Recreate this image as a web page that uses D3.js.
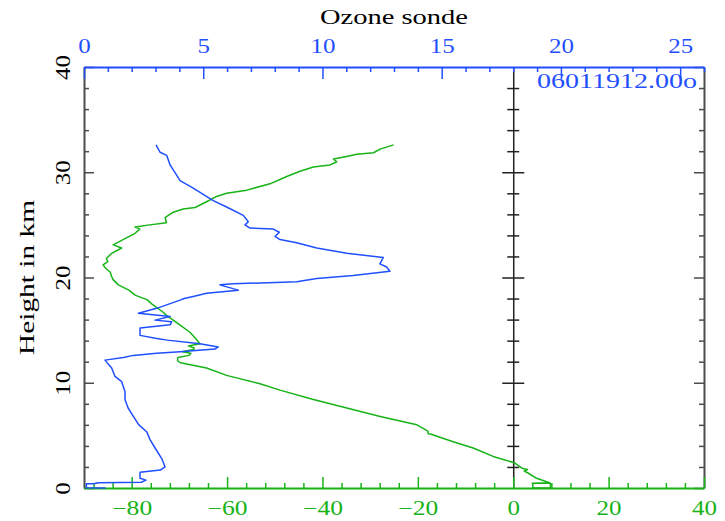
<!DOCTYPE html>
<html><head><meta charset="utf-8">
<script src="https://cdn.jsdelivr.net/npm/d3@7"></script>
<style>html,body{margin:0;padding:0;background:#fff;} svg{display:block;}</style>
</head><body>
<svg id="chart" width="725" height="521"></svg>
<script>
// Temperature profile (bottom axis, deg C) vs height (km)
const tempHeight = [0.0,0.02,0.45,0.45,0.5,0.92,1.45,1.6,1.75,1.85,2.4,3.0,3.8,4.4,5.1,5.15,5.4,6.0,6.8,7.6,8.4,9.3,9.9,10.7,11.4,11.9,12.1,12.4,12.6,12.8,12.95,13.15,13.3,13.5,13.7,14.2,14.8,15.5,16.4,16.7,17.5,17.9,18.3,18.8,19.3,19.8,20.1,20.5,20.9,21.2,21.5,21.8,22.3,22.8,23.1,23.6,24.2,24.6,24.8,25.0,25.2,25.7,26.2,26.5,26.65,27.2,27.7,28.0,28.3,28.9,29.6,30.1,30.5,30.7,31.0,31.25,31.5,31.7,31.85,32.2,32.6];
const tempValue  = [4.0,7.8,7.8,4.0,7.6,4.9,3.0,2.3,3.0,2.0,0.2,-4.2,-8.4,-12.6,-17.2,-17.8,-17.9,-20.2,-27.9,-34.9,-41.9,-48.9,-53.1,-60.1,-64.3,-69.8,-70.4,-70.3,-68.0,-67.6,-69.4,-67.0,-66.9,-68.1,-65.7,-66.6,-67.8,-69.9,-72.7,-73.4,-75.8,-76.8,-79.2,-80.6,-82.8,-83.9,-84.2,-84.5,-85.5,-86.0,-85.0,-85.3,-84.2,-82.1,-83.9,-81.8,-79.3,-78.3,-79.3,-76.2,-72.7,-73.0,-71.3,-69.2,-66.7,-64.3,-62.2,-60.1,-55.9,-51.0,-47.5,-44.7,-41.9,-38.4,-37.0,-37.7,-34.9,-32.8,-29.3,-27.9,-25.1];
// Ozone sonde profile (top axis) vs height (km)
const ozoneHeight = [0.0,0.03,0.4,0.4,0.5,0.55,0.75,0.92,1.5,1.7,2.0,2.8,3.8,4.6,5.35,6.0,6.8,7.6,8.4,9.15,10.1,10.6,11.4,12.15,12.4,12.6,12.8,12.95,13.2,13.4,13.7,14.05,14.2,14.5,15.2,15.5,15.8,15.95,16.3,16.6,17.07,17.85,18.0,18.2,18.5,18.8,19.3,19.4,19.6,19.9,20.2,20.6,21.0,21.3,21.9,22.3,22.8,23.3,23.6,23.9,24.3,24.6,24.7,25.0,25.3,25.9,26.7,27.3,28.5,29.2,30.7,31.6,31.9,32.6];
const ozoneValue  = [0.9,0.1,0.1,0.4,0.6,2.4,2.6,2.35,2.35,3.2,3.4,3.26,2.98,2.77,2.63,2.3,2.07,1.85,1.72,1.72,1.58,1.3,1.16,0.88,1.65,2.07,3.05,4.03,5.49,5.63,4.86,3.5,3.05,2.35,2.35,3.61,3.68,2.98,3.61,2.28,3.05,4.03,4.2,4.58,5.14,6.47,5.70,6.26,8.92,9.76,11.29,12.83,12.69,12.41,12.55,11.02,9.76,8.92,8.22,8.01,8.19,7.94,6.96,6.75,6.89,6.68,5.98,5.42,4.58,4.03,3.61,3.47,3.19,3.02];

const bottomMajorTicks = [-80,-60,-40,-20,0,20,40];
const bottomMinorTicks = [-88,-84,-76,-72,-68,-64,-56,-52,-48,-44,-36,-32,-28,-24,-16,-12,-8,-4,4,8,12,16,24,28,32,36];
const topMajorTicks = [0,5,10,15,20,25];
const topMinorTicks = [1,2,3,4,6,7,8,9,11,12,13,14,16,17,18,19,21,22,23,24,26];
const heightMajorTicks = [0,10,20,30,40];
const heightMinorTicks = [2,4,6,8,12,14,16,18,22,24,26,28,32,34,36,38];
const titleText = "Ozone sonde";
const yTitleText = "Height in km";
const stampText = "06011912.00o";

const FONT = '"Liberation Serif","Times New Roman",serif';
const BLUE = '#1f4fff', GREEN = '#17b317', GRAY = '#4d4d4d', BLACK = '#222';

const svg = d3.select('#chart');
const xT = d3.scaleLinear().domain([-90, 40]).range([84, 704]);
const xO = d3.scaleLinear().domain([0, 26]).range([84, 704]);
const y = d3.scaleLinear().domain([0, 40]).range([488, 67]);

function fitWidth(s) { let w = 0; for (const c of s) w += (c === '−') ? 15 : 12.5; return w; }
function fmt(d) { return d < 0 ? '−' + Math.abs(d) : String(d); }
function styleText(sel, color, size) {
  sel.attr('fill', color).style('font-family', FONT).style('font-size', size + 'px')
    .each(function () { d3.select(this).attr('textLength', fitWidth(this.textContent)).attr('lengthAdjust', 'spacingAndGlyphs'); });
}

// Left axis (height)
const gLmin = svg.append('g').attr('transform', `translate(${xT(-90)},0)`)
  .call(d3.axisLeft(y).tickValues(heightMinorTicks).tickSize(-5).tickSizeOuter(0).tickFormat(''));
gLmin.select('.domain').remove();
gLmin.selectAll('line').attr('stroke', GRAY).attr('stroke-width', 1.5);
const gL = svg.append('g').attr('transform', `translate(${xT(-90)},0)`)
  .call(d3.axisLeft(y).tickValues(heightMajorTicks).tickSize(-10).tickSizeOuter(0).tickFormat(fmt));
gL.select('.domain').attr('stroke', GRAY).attr('stroke-width', 2);
gL.selectAll('line').attr('stroke', GRAY).attr('stroke-width', 1.5);
gL.selectAll('text').attr('x', null).attr('dy', null).attr('text-anchor', 'middle')
  .attr('transform', 'translate(-14,0) rotate(-90)');
styleText(gL.selectAll('text'), '#000', 20);

// Right axis
const gRmin = svg.append('g').attr('transform', `translate(${xT(40)},0)`)
  .call(d3.axisRight(y).tickValues(heightMinorTicks).tickSize(-5).tickSizeOuter(0).tickFormat(''));
gRmin.select('.domain').remove();
gRmin.selectAll('line').attr('stroke', GRAY).attr('stroke-width', 1.5);
const gR = svg.append('g').attr('transform', `translate(${xT(40)},0)`)
  .call(d3.axisRight(y).tickValues(heightMajorTicks).tickSize(-10).tickSizeOuter(0).tickFormat(''));
gR.select('.domain').attr('stroke', GRAY).attr('stroke-width', 2);
gR.selectAll('line').attr('stroke', GRAY).attr('stroke-width', 1.5);

// Middle line at 0 deg
const gMmin = svg.append('g').attr('transform', `translate(${xT(0)},0)`)
  .call(d3.axisLeft(y).tickValues(heightMinorTicks).tickSize(6).tickSizeOuter(0).tickFormat(''));
gMmin.select('.domain').remove();
gMmin.selectAll('line').attr('x1', -6).attr('x2', 6).attr('stroke', BLACK).attr('stroke-width', 1.5);
const gM = svg.append('g').attr('transform', `translate(${xT(0)},0)`)
  .call(d3.axisLeft(y).tickValues(heightMajorTicks.filter(d => d > 0 && d < 40)).tickSize(11).tickSizeOuter(0).tickFormat(''));
gM.select('.domain').attr('stroke', BLACK).attr('stroke-width', 1.5);
gM.selectAll('line').attr('x1', -11).attr('x2', 11).attr('stroke', BLACK).attr('stroke-width', 1.5);

// Bottom axis (temperature)
const gBmin = svg.append('g').attr('transform', `translate(0,${y(0)})`)
  .call(d3.axisBottom(xT).tickValues(bottomMinorTicks).tickSize(-5).tickSizeOuter(0).tickFormat(''));
gBmin.select('.domain').remove();
gBmin.selectAll('line').attr('stroke', GREEN).attr('stroke-width', 1.5);
const gB = svg.append('g').attr('transform', `translate(0,${y(0)})`)
  .call(d3.axisBottom(xT).tickValues(bottomMajorTicks).tickSize(-11).tickSizeOuter(0).tickFormat(fmt));
gB.select('.domain').attr('stroke', GREEN).attr('stroke-width', 2);
gB.selectAll('line').attr('stroke', GREEN).attr('stroke-width', 1.5);
gB.selectAll('text').attr('y', 27).attr('dy', null);
styleText(gB.selectAll('text'), GREEN, 20);

// Top axis (ozone)
const gTmin = svg.append('g').attr('transform', `translate(0,${y(40)})`)
  .call(d3.axisTop(xO).tickValues(topMinorTicks).tickSize(-5).tickSizeOuter(0).tickFormat(''));
gTmin.select('.domain').remove();
gTmin.selectAll('line').attr('stroke', BLUE).attr('stroke-width', 1.5);
const gT = svg.append('g').attr('transform', `translate(0,${y(40)})`)
  .call(d3.axisTop(xO).tickValues(topMajorTicks).tickSize(-12).tickSizeOuter(0).tickFormat(fmt));
gT.select('.domain').attr('stroke', BLUE).attr('stroke-width', 2);
gT.selectAll('line').attr('stroke', BLUE).attr('stroke-width', 1.5);
gT.selectAll('text').attr('y', -14).attr('dy', null);
styleText(gT.selectAll('text'), BLUE, 20);

// Data lines
const tempData = tempHeight.map((h, i) => ({ h, v: tempValue[i] }));
const ozoneData = ozoneHeight.map((h, i) => ({ h, v: ozoneValue[i] }));
svg.append('path').datum(tempData)
  .attr('d', d3.line().x(d => xT(d.v)).y(d => y(d.h)))
  .attr('fill', 'none').attr('stroke', GREEN).attr('stroke-width', 1.5).attr('stroke-linejoin', 'round');
svg.append('path').datum(ozoneData)
  .attr('d', d3.line().x(d => xO(d.v)).y(d => y(d.h)))
  .attr('fill', 'none').attr('stroke', BLUE).attr('stroke-width', 1.5).attr('stroke-linejoin', 'round');

// Texts
svg.append('text').attr('x', (xT(-90) + xT(40)) / 2).attr('y', 24).attr('text-anchor', 'middle')
  .attr('fill', '#000').style('font-family', FONT).style('font-size', '21px')
  .attr('textLength', 148).attr('lengthAdjust', 'spacingAndGlyphs').text(titleText);
svg.append('text').attr('transform', `translate(34,${(y(0) + y(40)) / 2}) rotate(-90)`).attr('text-anchor', 'middle')
  .attr('fill', '#000').style('font-family', FONT).style('font-size', '21px')
  .attr('textLength', 155).attr('lengthAdjust', 'spacingAndGlyphs').text(yTitleText);
svg.append('text').attr('x', 537).attr('y', 88).attr('text-anchor', 'start')
  .attr('fill', BLUE).style('font-family', FONT).style('font-size', '20px')
  .attr('textLength', 160).attr('lengthAdjust', 'spacingAndGlyphs').text(stampText);
</script>
</body></html>
